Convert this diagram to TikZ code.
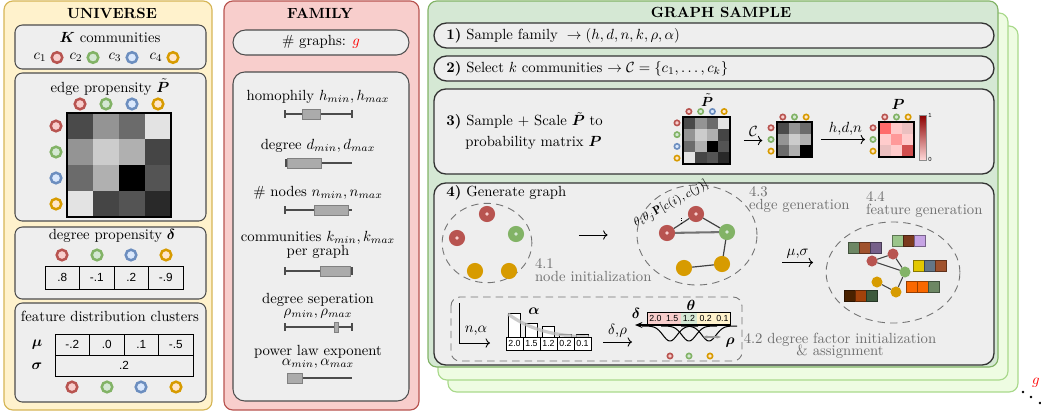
\documentclass[tikz,border=0pt]{standalone}
\usepackage{amsmath,amssymb,bm}
\usepackage{fontspec}
\setsansfont{Liberation Sans}
\usepackage{tikz}
\usetikzlibrary{shapes,arrows,positioning,calc,arrows.meta}

\definecolor{rdS}{HTML}{B85450}
\definecolor{rdF}{HTML}{F8CECC}
\definecolor{gnS}{HTML}{82B366}
\definecolor{gnF}{HTML}{D5E8D4}
\definecolor{blS}{HTML}{6C8EBF}
\definecolor{blF}{HTML}{DAE8FC}
\definecolor{orS}{HTML}{D79B00}
\definecolor{orF}{HTML}{FFE6CC}
\definecolor{ylS}{HTML}{D6B656}
\definecolor{ylF}{HTML}{FFF2CC}
\definecolor{shS}{HTML}{A9D98B}
\definecolor{shF}{HTML}{EEFCE2}
\definecolor{boxF}{HTML}{EEEEEE}
\definecolor{lbl}{HTML}{6E6E6E}
\definecolor{olv}{HTML}{6D8764}
\definecolor{brn}{HTML}{A0522D}
\definecolor{vio}{HTML}{76608A}
\definecolor{lgn}{HTML}{9BC58A}
\definecolor{dbr}{HTML}{7A3A1E}
\definecolor{lav}{HTML}{C6A4E4}
\definecolor{yel}{HTML}{E3C800}
\definecolor{stl}{HTML}{647687}
\definecolor{org}{HTML}{FA6800}
\definecolor{dkb}{HTML}{4A2200}
\definecolor{rst}{HTML}{A3420A}
\definecolor{dgn}{HTML}{3D5A3D}

\begin{document}
\begin{tikzpicture}[x=0.68pt, y=-0.68pt, node distance=0pt, outer sep=0pt, inner sep=1pt,
    panel/.style={draw=#1S, fill=#1F, line width=0.8pt, rounded corners=6pt},
    ibox/.style={draw=black!70, fill=boxF, line width=0.7pt, rounded corners=5pt},
    sbox/.style={draw=black!80, fill=boxF, line width=0.9pt, rounded corners=#1},
    ring/.style={circle, draw=#1S, fill=#1F, line width=1.7pt, minimum size=7.2pt, inner sep=0pt},
    sring/.style={circle, draw=#1S, fill=#1F, line width=1.1pt, minimum size=3.6pt, inner sep=0pt},
    gnode/.style={circle, fill=#1S, minimum size=11pt, inner sep=0pt},
    dnode/.style={gnode=#1, path picture={\fill[#1F] (path picture bounding box.center) circle (1.3pt);}},
    snode/.style={circle, fill=#1S, minimum size=7.5pt, inner sep=0pt},
    zone/.style={ellipse, draw=black!55, dash pattern=on 5pt off 3.5pt, line width=0.6pt},
    link/.style={draw=black!75, line width=0.8pt},
    arr/.style={-{To[length=3pt]}, line width=0.6pt},
    whisk/.style={draw=black!70, line width=0.8pt},
    bxp/.style={fill=black!33, draw=black!50, line width=0.6pt},
    cell/.style={rectangle, draw, line width=0.6pt, minimum width=23.46pt, minimum height=15.6pt, inner sep=0pt, font=\footnotesize\sffamily},
    hcell/.style={rectangle, draw, fill=white, line width=0.5pt, minimum width=11.56pt, minimum height=8.84pt, inner sep=0pt, font=\fontsize{6}{7}\selectfont\sffamily},
    tcell/.style={hcell, draw=none, fill=#1, minimum width=11.4pt}]
\useasboundingbox (0,0) rectangle (1041,414);

% universe
\draw[panel=yl] (4,1) rectangle (212,410);
\node[font=\bfseries] (uni) at (112,13) {UNIVERSE};
\draw[ibox] (15,25) rectangle (206,69);
\node (kcom) at (110,38) {$\bm K$ communities};
\foreach \cl/\x [count=\i] in {rd/57,gn/93,bl/132,or/173} {
  \node[ring=\cl] (c\i) at (\x,57.5) {};
  \node[left=2.5pt of c\i] (cl\i) {$c_\i$};
}
\draw[ibox] (15,73) rectangle (206,221);
\node (eplab) at (110,87) {edge propensity $\tilde{\bm P}$};
\foreach \row [count=\i from 0] in {{71,42,58,11},{42,20,31,73},{58,31,100,67},{11,73,67,84}}
  \foreach \v [count=\j from 0] in \row
    \fill[fill=black!\v] (67+26*\j,113+26*\i) rectangle ++(26,26);
\node[draw, line width=1.4pt, minimum size=70.72pt] (ptbig) at (119,165) {};
\foreach \cl [count=\i from 0] in {rd,gn,bl,or} {
  \node[ring=\cl] (ec\i) at (80+26*\i,104) {};
  \node[ring=\cl] (er\i) at (56,126+26*\i) {};
}
\draw[ibox] (15,227) rectangle (206,299);
\node (dplab) at (112,236) {degree propensity $\bm\delta$};
\foreach \cl/\x [count=\i] in {rd/62,gn/97,bl/131,or/166}
  \node[ring=\cl] (dr\i) at (\x,255) {};
\node[cell] (d1) at (62.25,277.5) {.8};
\node[cell, right=of d1] (d2) {-.1};
\node[cell, right=of d2] (d3) {.2};
\node[cell, right=of d3] (d4) {-.9};
\draw[ibox] (15,303) rectangle (206,402);
\node (fdlab) at (110,316) {feature distribution clusters};
\node (mu) at (37,345) {$\bm\mu$};
\node (sg) at (37,366) {$\bm\sigma$};
\node[cell, minimum height=14.3pt] (m1) at (72.25,344.5) {-.2};
\node[cell, minimum height=14.3pt, right=of m1] (m2) {.0};
\node[cell, minimum height=14.3pt, right=of m2] (m3) {.1};
\node[cell, minimum height=14.3pt, right=of m3] (m4) {-.5};
\node[cell, minimum height=14.3pt, minimum width=93.84pt, anchor=north west] (s1) at (m1.south west) {.2};
\foreach \cl/\x [count=\i] in {rd/72,gn/107,bl/141,or/176}
  \node[ring=\cl] (fr\i) at (\x,387) {};

% family
\draw[panel=rd] (224,1) rectangle (419,410);
\node[font=\bfseries] (fam) at (320,13) {FAMILY};
\draw[ibox, rounded corners=8.5pt] (233,30) rectangle (409,55);
\node (ngr) at (321,42) {\# graphs: \textcolor{red}{$g$}};
\draw[ibox, rounded corners=8pt] (233,72) rectangle (409,401);
\node (fh) at (318,97) {homophily $h_{min},h_{max}$};
\draw[whisk] (285,110) -- (285,118) (285,114) -- (352,114) (352,110) -- (352,118);
\draw[bxp] (302,109) rectangle (320,119);
\node (fd) at (318,146) {degree $d_{min},d_{max}$};
\draw[whisk] (286,159) -- (286,167) (286,163) -- (352,163);
\draw[bxp] (287,158) rectangle (321,168);
\node (fn) at (318,193) {\# nodes $n_{min},n_{max}$};
\draw[whisk] (285,206) -- (285,214) (285,210) -- (352,210);
\draw[bxp] (314,205) rectangle (348,215);
\node (fk1) at (318,238) {communities $k_{min},k_{max}$};
\node (fk2) at (318,252) {per graph};
\draw[whisk] (285,267) -- (285,275) (285,271) -- (352,271) (352,267) -- (352,275);
\draw[bxp] (320,266) rectangle (350,276);
\node (fr1) at (318,300) {degree seperation};
\node (fr2) at (318,314) {$\rho_{min},\rho_{max}$};
\draw[whisk] (285,323) -- (285,331) (285,327) -- (352,327) (352,323) -- (352,331);
\draw[bxp] (334,322) rectangle (338,332);
\node (fa1) at (318,352) {power law exponent};
\node (fa2) at (318,364) {$\alpha_{min},\alpha_{max}$};
\draw[whisk] (287,378) -- (352,378);
\draw[bxp] (287,373) rectangle (302,383);

% graph sample
\draw[panel=sh] (448,26) rectangle (1018,392);
\draw[panel=sh] (438,13) rectangle (1008,380);
\draw[panel=gn] (428,1) rectangle (998,367);
\node[font=\bfseries] (gs) at (721,12) {GRAPH SAMPLE};
\node[text=red] (gcnt) at (1036,383) {$g$};
\foreach \x/\y in {1023/392,1031/397,1040/403}
  \fill (\x,\y) circle (1pt);

\draw[sbox=8.5pt] (434,23) rectangle (994,48);
\node[anchor=west] (s1) at (445,36) {\textbf{1)} Sample family $\;\rightarrow (h,d,n,k,\rho,\alpha)$};
\draw[sbox=8.5pt] (434,56) rectangle (994,81);
\node[anchor=west] (s2) at (445,69) {\textbf{2)} Select $k$ communities $\rightarrow \mathcal{C}=\{c_1,\ldots,c_k\}$};
\draw[sbox=8pt] (434,89) rectangle (994,174);
\node[anchor=west] (s3) at (445,121) {\textbf{3)} Sample + Scale $\tilde{\bm P}$ to};
\node[anchor=west] (s3b) at (464,143) {probability matrix $\bm P$};

\foreach \row [count=\i from 0] in {{71,42,58,11},{42,20,31,73},{58,31,100,67},{11,73,67,84}}
  \foreach \v [count=\j from 0] in \row
    \fill[fill=black!\v] (683+11.75*\j,117+11.75*\i) rectangle ++(11.75,11.75);
\node[draw, line width=0.8pt, minimum size=31.96pt] (pts) at (706.5,140.5) {};
\node[font=\small, inner sep=0pt] (ptl) at (707,100) {$\tilde{\bm P}$};
\foreach \cl [count=\i from 0] in {rd,gn,bl,or} {
  \node[sring=\cl] (pc\i) at (688.9+11.75*\i,111.5) {};
  \node[sring=\cl] (pr\i) at (677,122.9+11.75*\i) {};
}
\foreach \row [count=\i from 0] in {{71,42,58},{42,20,31},{58,31,100}}
  \foreach \v [count=\j from 0] in \row
    \fill[fill=black!\v] (777+11.67*\j,122+11.67*\i) rectangle ++(11.67,11.67);
\node[draw, line width=0.8pt, minimum size=23.8pt] (pcs) at (794.5,139.5) {};
\foreach \cl [count=\i from 0] in {rd,gn,or} {
  \node[sring=\cl] (qc\i) at (782.8+11.67*\i,117) {};
  \node[sring=\cl] (qr\i) at (771,127.8+11.67*\i) {};
}
\foreach \row [count=\i from 0] in {{red!58,red!21,red!18!white!92!black},{red!20,red!40,red!20},{red!18!white!92!black,red!20,red!62!white!82!black}}
  \foreach \v [count=\j from 0] in \row
    \fill[fill=\v] (879+11.67*\j,122+11.67*\i) rectangle ++(11.67,11.67);
\node[draw, line width=0.8pt, minimum size=23.8pt] (pm) at (896.5,139.5) {};
\node[inner sep=0pt] (pml) at (898,104) {$\bm P$};
\foreach \cl [count=\i from 0] in {rd,gn,or} {
  \node[sring=\cl] (mc\i) at (884.8+11.67*\i,117) {};
  \node[sring=\cl] (mr\i) at (873,127.8+11.67*\i) {};
}
\shadedraw[top color=red!55!black, bottom color=red!15, draw=black!45, line width=0.3pt] (919,115) rectangle (926,160);
\node[font=\fontsize{4}{5}\selectfont\sffamily, anchor=west, inner sep=1pt] (cb1) at (927,115) {1};
\node[font=\fontsize{4}{5}\selectfont\sffamily, anchor=west, inner sep=1pt] (cb0) at (927,159) {0};
\draw[arr, shorten <=9.5pt, shorten >=10pt] (pts.east) -- (pts.east -| pcs.west) node[midway, above=2pt] (arC) {$\mathcal C$};
\draw[arr, shorten <=6pt, shorten >=9.5pt] (pcs.east) -- (pcs.east -| pm.west) node[midway, above=2pt] (arH) {$h$,$d$,$n$};

% step 4
\draw[sbox=8pt] (434,183) rectangle (994,365);
\node[anchor=west] (s4) at (445,193) {\textbf{4)} Generate graph};

\node[zone, minimum width=61pt, minimum height=54pt] (e41) at (487,243) {};
\node[dnode=rd] (a1) at (487,214) {};
\node[dnode=rd] (a2) at (457,238) {};
\node[dnode=gn] (a3) at (516,234) {};
\node[gnode=or] (a4) at (475,271) {};
\node[gnode=or] (a5) at (509,271) {};
\node[text=lbl, align=left, anchor=north west, inner sep=0pt] (l41) at (535,259) {4.1\\[-3.5pt] node initialization};

\node[zone, minimum width=81.6pt, minimum height=68pt] (e43) at (697,235) {};
\draw[arr, shorten <=32pt, shorten >=20pt] (e41.east |- e43.west) -- (e43.west);
\node[dnode=rd] (b1) at (667,233) {};
\node[dnode=rd] (b2) at (696,214) {};
\node[dnode=gn] (b3) at (727,232) {};
\node[gnode=or] (b4) at (684,268) {};
\node[gnode=or] (b5) at (722,264) {};
\draw[link] (b1) -- coordinate[pos=.5] (bm) (b2);
\draw[link, draw=black!55, line width=1.4pt] (b1) -- (b3);
\draw[link] (b2) -- (b3) (b3) -- (b5) (b4) -- (b5);
\draw[densely dotted, line width=0.6pt] (bm) -- ++(0,-7);
\node[rotate=29, font=\footnotesize, inner sep=0pt] (tij) at (671,204) {$\theta_i\theta_j\mathbf{P}[c(i),c(j)]$};
\node[text=lbl, align=left, anchor=north west, inner sep=0pt] (l43) at (749,187) {4.3\\[-3.5pt] edge generation};

\node[zone, minimum width=91pt, minimum height=68.7pt] (e44) at (893,272.5) {};
\draw[arr] ($(e44.west)+(-44,-10)$) -- ($(e44.west)+(-13,-10)$) node[midway, above=2pt] (msl) {$\mu$,$\sigma$};
\node[text=lbl, align=left, anchor=north west, inner sep=0pt] (l44) at (866,192) {4.4\\[-3.5pt] feature generation};
\node[snode=rd] (f1) at (872,261) {};
\node[snode=rd] (f2) at (893,254) {};
\node[snode=gn] (f3) at (905,272) {};
\node[snode=or] (f4) at (877,282) {};
\node[snode=or] (f5) at (896,292) {};
\draw[link, line width=0.7pt] (f1) -- (f2) (f1) -- (f3) (f2) -- (f3) (f3) -- (f5) (f4) -- (f5);
\foreach \x/\y/\ca/\cb/\cc in {848/242/olv/brn/vio, 892/235/lgn/dbr/lav, 913/260/yel/stl/brn, 906/281/org/org/olv, 844/290/dkb/rst/dgn}
  \foreach \cl [count=\k from 0] in {\ca,\cb,\cc}
    \filldraw[fill=\cl, draw=\cl!60!black, line width=0.6pt] (\x+11*\k,\y) rectangle ++(11,11);

% degree factors
\draw[black!55, dash pattern=on 5pt off 3.5pt, line width=0.6pt, rounded corners=6pt] (451,297) rectangle (742,361);
\coordinate (ax0) at (459,303);
\coordinate (ax1) at (490,343);
\draw[arr] (ax0) |- (ax1);
\node (nal) at (476,331) {$n$,$\alpha$};
\foreach \x/\t in {508/313,525/323,542/326,559/334,576/334}
  \draw[fill=white, line width=0.6pt] (\x,337) rectangle (\x+12,\t);
\draw[black!25, line width=2.2pt, opacity=.8] (508,314) .. controls (530,330) and (555,336) .. (589,337);
\node (alab) at (534,311) {$\bm\alpha$};
\node[hcell] (h1) at (514.5,343.5) {2.0};
\node[hcell, right=of h1] (h2) {1.5};
\node[hcell, right=of h2] (h3) {1.2};
\node[hcell, right=of h3] (h4) {0.2};
\node[hcell, right=of h4] (h5) {0.1};
\draw[arr] ($(h5.east)+(12,-1.5)$) -- ++(29,0) node[midway, above=2pt] (drl) {$\delta$,$\rho$};
\node[tcell=rdF] (t1) at (655.4,318.5) {2.0};
\node[tcell=rdF, right=of t1] (t2) {1.5};
\node[tcell=gnF, right=of t2] (t3) {1.2};
\node[tcell=ylF, right=of t3] (t4) {0.2};
\node[tcell=ylF, right=of t4] (t5) {0.1};
\draw[line width=0.5pt] (t1.north west) rectangle (t5.south east);
\node (thl) at (691,305) {$\bm\theta$};
\node (dlt) at (636,313) {$\bm\delta$};
\draw[-{Stealth[length=5pt,width=4pt]}, line width=0.8pt] (t5.south east) -- ($(t1.south west)+(-12,0)$);
\foreach \m in {670,689,709}
  \draw[line width=0.7pt] plot[domain=-28:28, samples=50, smooth] ({\m+\x},{326+15*exp(0-(\x/10)*(\x/10))});
\coordinate (rh0) at (703,337);
\coordinate (rh1) at (721,337);
\draw[{Stealth[length=3pt]}-{Stealth[length=3pt]}, black!40, line width=0.8pt] (rh0) -- (rh1);
\node (rho) at (730,343) {$\bm\rho$};
\foreach \cl/\x [count=\i] in {rd/670,gn/689,or/710}
  \node[sring=\cl] (tr\i) at (\x,356) {};
\node[text=lbl, align=center, anchor=north, inner sep=0pt] (l42) at (840,333) {4.2 degree factor initialization\\[-3.5pt] \& assignment};
\end{tikzpicture}
\end{document}
